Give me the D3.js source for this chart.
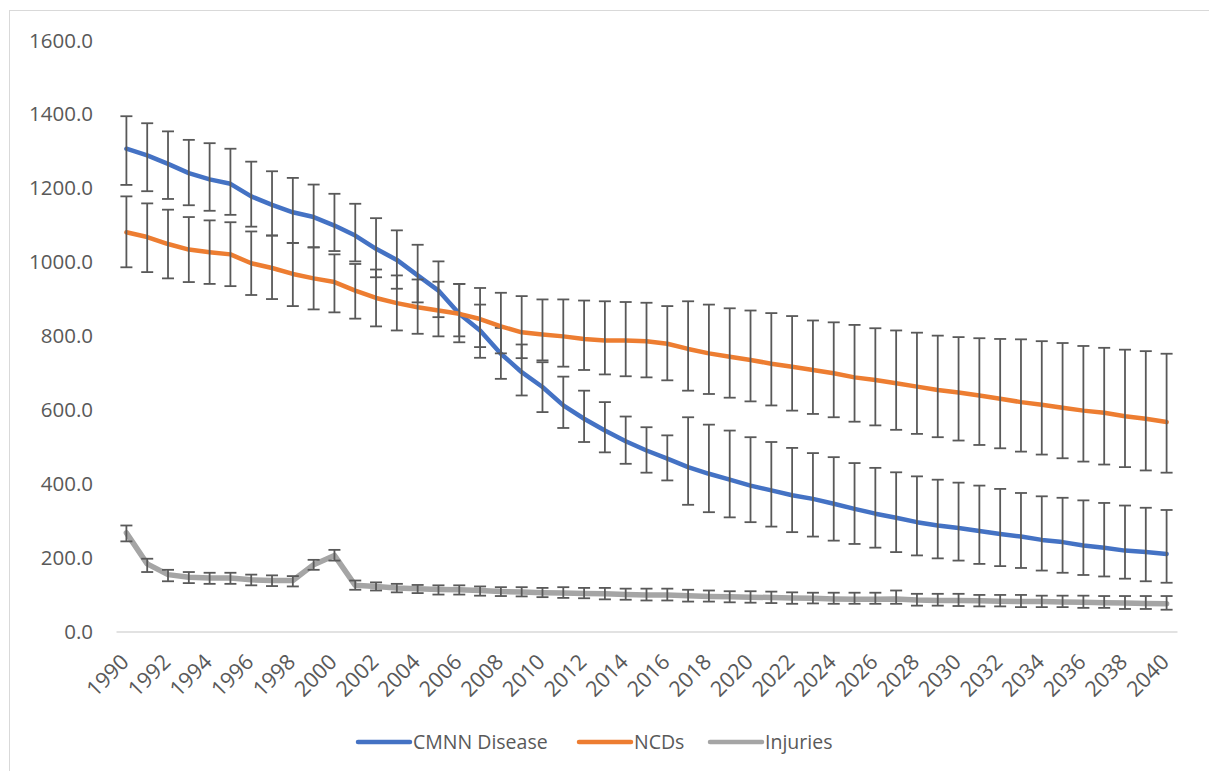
<!DOCTYPE html>
<html>
<head>
<meta charset="utf-8">
<script src="https://cdn.jsdelivr.net/npm/d3@7"></script>
<style>
  html, body { margin: 0; padding: 0; background: #fff; }
  svg { display: block; }
  text { font-family: "Open Sans", "Noto Sans", sans-serif; fill: #595959; }
</style>
</head>
<body>
<svg id="chart" width="1209" height="771"></svg>
<script>
// Years on the category axis
const years = d3.range(1990, 2041);

// Tick labels for the value axis
const yTicks = [0, 200, 400, 600, 800, 1000, 1200, 1400, 1600];

// CMNN Disease: estimate, upper and lower bounds
const cmnn = [1307,1289,1266,1241,1224,1212,1178,1155,1135,1122,
              1099,1072,1036,1006,964,923,860,815,752,702,
              662,612,576,544,515,490,468,445,427,411,
              395,382,369,359,346,332,319,308,296,287,
              280,272,264,257,248,242,233,227,219,215,210];
const cmnnUpper = [1395,1376,1354,1331,1322,1307,1272,1246,1228,1210,
                   1185,1158,1119,1086,1047,1002,941,885,822,777,
                   729,690,652,621,582,553,531,580,560,544,
                   526,513,497,483,472,456,443,431,420,411,
                   403,395,386,375,366,362,355,348,341,335,329];
const cmnnLower = [1209,1192,1171,1154,1139,1128,1096,1072,1052,1040,
                   1030,1002,959,928,891,851,783,741,684,639,
                   594,551,513,485,454,430,409,343,323,309,
                   296,284,269,257,246,237,227,215,206,198,
                   192,183,177,172,165,159,153,149,143,136,132];

// NCDs: estimate, upper and lower bounds
const ncd = [1081,1068,1049,1034,1027,1021,997,984,968,956,
             946,923,903,889,878,869,860,846,826,810,
             804,799,792,788,788,786,779,765,753,744,
             735,725,717,708,699,688,681,672,663,654,
             647,639,630,621,614,606,598,592,583,576,567];
const ncdUpper = [1178,1159,1142,1122,1113,1108,1083,1072,1052,1040,
                  1021,995,980,964,953,947,941,930,917,908,
                  899,899,896,894,892,890,881,894,885,875,
                  869,862,854,842,837,830,821,815,809,801,
                  797,794,792,791,786,781,773,768,763,759,752];
const ncdLower = [986,973,956,946,941,935,911,900,881,872,
                  864,847,826,815,806,799,799,770,753,740,
                  734,717,708,696,691,688,680,652,643,633,
                  623,612,598,589,580,568,558,546,535,526,
                  517,505,496,487,479,469,460,452,445,436,430];

// Injuries: estimate, upper and lower bounds
const injuries = [267,183,154,147,145,145,140,138,138,181,
                  206,125,122,118,116,114,113,111,108,107,
                  105,104,103,102,100,99,99,97,95,94,
                  93,92,91,90,88,87,87,88,85,84,
                  84,83,82,81,81,80,79,78,77,76,75];
const injuriesUpper = [287,197,167,161,159,159,154,152,150,194,
                       221,138,133,129,126,125,125,122,120,120,
                       118,120,118,118,116,116,116,113,111,109,
                       109,108,106,105,105,105,105,111,102,102,
                       102,99,99,99,97,97,97,96,96,96,96];
const injuriesLower = [244,161,136,131,129,129,125,123,122,167,
                       192,113,111,106,104,100,100,97,96,95,
                       93,91,90,87,86,84,84,81,81,79,
                       78,77,75,76,75,75,75,75,70,70,
                       69,68,68,66,66,66,64,64,61,61,59];

const seriesNames = ["CMNN Disease", "NCDs", "Injuries"];
const seriesColors = ["#4472C4", "#ED7D31", "#A5A5A5"];

const series = [
  { name: seriesNames[0], color: seriesColors[0], width: 4.5, values: cmnn, upper: cmnnUpper, lower: cmnnLower },
  { name: seriesNames[1], color: seriesColors[1], width: 4.5, values: ncd, upper: ncdUpper, lower: ncdLower },
  { name: seriesNames[2], color: seriesColors[2], width: 5.5, values: injuries, upper: injuriesUpper, lower: injuriesLower }
];

const svg = d3.select("#chart");

// Outer chart frame
svg.append("rect")
  .attr("x", 9.5).attr("y", 10.5)
  .attr("width", 1220).attr("height", 780)
  .attr("fill", "none")
  .attr("stroke", "#D9D9D9")
  .attr("stroke-width", 1);

const x = d3.scaleBand().domain(years).range([116, 1177]).padding(0);
const cx = d => x(d) + x.bandwidth() / 2;
const y = d3.scaleLinear().domain([0, 1600]).range([631.5, 40.5]);

// Value axis labels (no axis line)
const yAxis = d3.axisLeft(y)
  .tickValues(yTicks)
  .tickFormat(d3.format(".1f"))
  .tickSize(0)
  .tickPadding(0);
const yG = svg.append("g")
  .attr("transform", "translate(93,0)")
  .call(yAxis);
yG.select(".domain").remove();
yG.selectAll("text")
  .attr("font-size", 20.5)
  .attr("font-family", "Open Sans")
  .attr("fill", "#595959");

// Category axis with baseline and rotated year labels
const xAxis = d3.axisBottom(x)
  .tickValues(years.filter(d => (d - 1990) % 2 === 0))
  .tickSize(0)
  .tickSizeOuter(0);
const xG = svg.append("g")
  .attr("transform", `translate(0,${y(0)})`)
  .call(xAxis);
xG.select(".domain")
  .attr("stroke", "#D9D9D9")
  .attr("stroke-width", 1.3);
xG.selectAll(".tick text")
  .attr("font-size", 21.5)
  .attr("font-family", "Open Sans")
  .attr("fill", "#595959")
  .attr("text-anchor", "end")
  .attr("dy", "0.35em")
  .attr("y", 0)
  .attr("transform", "translate(-1.5,26.5) rotate(-45)");

// Series: line first, then its error bars
const line = d3.line()
  .x((d, i) => cx(years[i]))
  .y(d => y(d));

const capHalf = 6;
series.forEach(s => {
  const g = svg.append("g").attr("class", "series");
  g.append("path")
    .datum(s.values)
    .attr("d", line)
    .attr("fill", "none")
    .attr("stroke", s.color)
    .attr("stroke-width", s.width)
    .attr("stroke-linejoin", "round")
    .attr("stroke-linecap", "round");

  const bars = g.append("g")
    .attr("stroke", "#595959")
    .attr("stroke-width", 1.8)
    .selectAll("g")
    .data(years.map((yr, i) => ({ yr, hi: s.upper[i], lo: s.lower[i] })))
    .join("g");
  bars.append("line")
    .attr("x1", d => cx(d.yr)).attr("x2", d => cx(d.yr))
    .attr("y1", d => y(d.hi)).attr("y2", d => y(d.lo));
  bars.append("line")
    .attr("x1", d => cx(d.yr) - capHalf).attr("x2", d => cx(d.yr) + capHalf)
    .attr("y1", d => y(d.hi)).attr("y2", d => y(d.hi));
  bars.append("line")
    .attr("x1", d => cx(d.yr) - capHalf).attr("x2", d => cx(d.yr) + capHalf)
    .attr("y1", d => y(d.lo)).attr("y2", d => y(d.lo));
});

// Legend
const legendItems = [
  { name: seriesNames[0], color: seriesColors[0], x: 358 },
  { name: seriesNames[1], color: seriesColors[1], x: 579 },
  { name: seriesNames[2], color: seriesColors[2], x: 710 }
];
const legend = svg.append("g").attr("transform", "translate(0,742)");
legendItems.forEach(it => {
  legend.append("line")
    .attr("x1", it.x).attr("x2", it.x + 52)
    .attr("y1", 0).attr("y2", 0)
    .attr("stroke", it.color)
    .attr("stroke-width", 4.5)
    .attr("stroke-linecap", "round");
  legend.append("text")
    .attr("x", it.x + 55)
    .attr("y", 0)
    .attr("dy", "0.35em")
    .attr("font-size", 19.5)
    .text(it.name);
});
</script>
</body>
</html>
